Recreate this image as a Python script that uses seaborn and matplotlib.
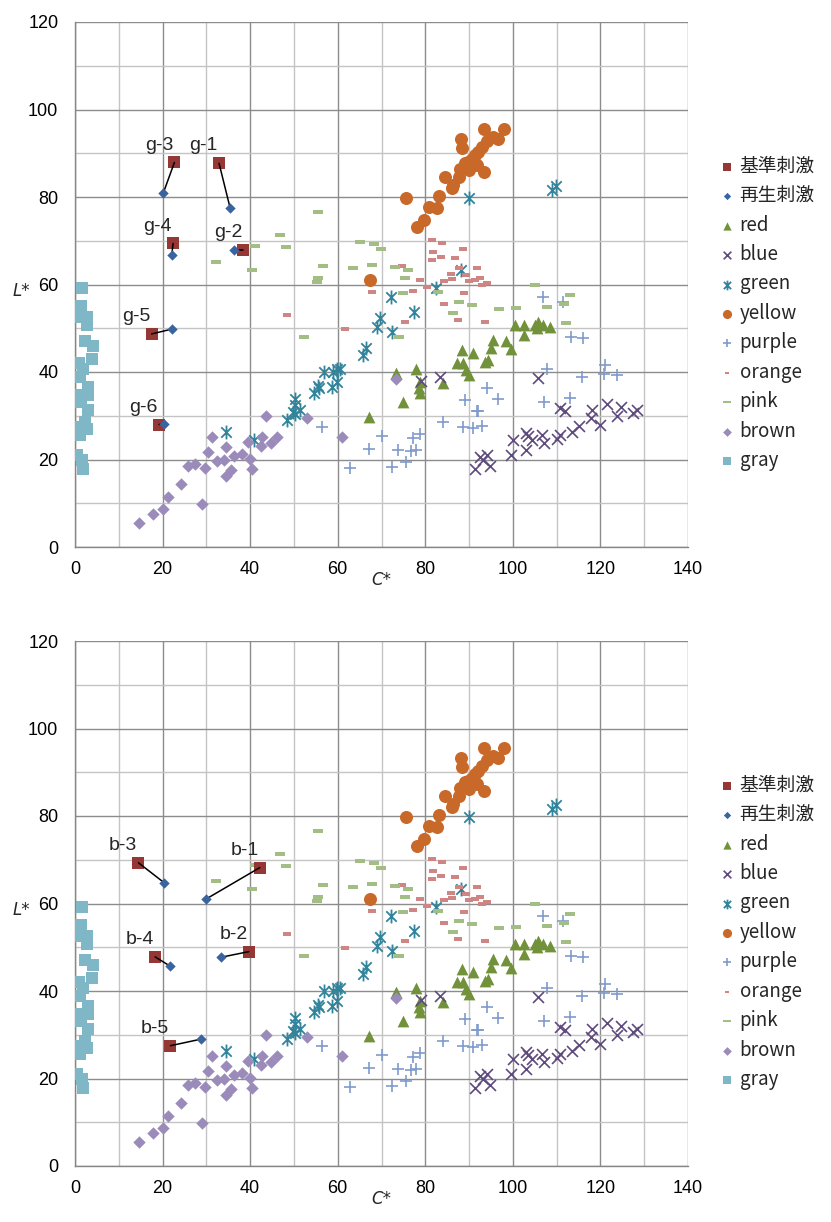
import matplotlib
matplotlib.use("Agg")
import matplotlib.pyplot as plt
import seaborn as sns
from matplotlib.path import Path
from matplotlib.ticker import MultipleLocator
from matplotlib import font_manager

sns.set_style("white")
plt.rcParams['font.family'] = ['Noto Sans CJK JP', 'DejaVu Sans']


def pick_font(names):
    for n in names:
        try:
            font_manager.findfont(n, fallback_to_default=False)
            return n
        except Exception:
            continue
    return 'DejaVu Sans'


NARROW = pick_font(['Liberation Sans Narrow', 'Liberation Sans', 'DejaVu Sans'])

# ---------------- colour stimulus data (C*, L*) ----------------
red_C = [67.1, 73.2, 75.0, 77.8, 78.8, 78.6, 78.8, 84.1, 87.3, 88.3, 88.7, 89.4, 90.0, 91.0,
         93.6, 94.4, 95.0, 95.4, 98.4, 99.5, 100.5, 102.5, 102.5, 105.0, 105.4, 105.8, 106.9, 108.5]
red_L = [29.8, 39.7, 33.2, 40.8, 37.8, 36.3, 35.1, 37.4, 42.0, 45.0, 42.1, 40.5, 39.3, 44.3,
         42.3, 42.7, 45.6, 47.3, 47.2, 45.3, 50.7, 50.7, 48.5, 50.7, 50.0, 51.5, 50.7, 50.4]

blue_C = [79.0, 83.4, 91.3, 92.5, 93.2, 94.0, 94.8, 99.5, 100.1, 103.0, 103.1, 103.5, 104.3, 105.7,
          106.6, 107.0, 110.0, 110.8, 110.8, 111.9, 113.6, 115.2, 117.8, 118.0, 120.0, 121.6,
          123.8, 124.6, 127.5, 128.3]
blue_L = [38.0, 38.9, 17.8, 20.6, 20.0, 21.0, 18.6, 21.0, 24.5, 22.2, 26.0, 25.4, 24.5, 38.6,
          25.6, 23.8, 24.6, 25.6, 31.7, 31.2, 26.4, 27.7, 29.6, 31.3, 27.9, 32.8,
          29.9, 31.9, 30.6, 31.3]

green_C = [34.6, 40.9, 48.5, 50.2, 50.2, 49.9, 51.4, 50.2, 54.6, 55.7, 55.6, 56.9, 58.6, 59.0,
           59.8, 60.5, 59.8, 65.8, 66.5, 69.0, 69.6, 72.5, 72.1, 77.4, 82.4, 88.1, 90.0, 109.0, 109.8]
green_L = [26.4, 24.5, 29.0, 33.8, 32.5, 30.9, 31.3, 30.4, 35.3, 36.3, 36.7, 40.1, 36.6, 40.1,
           40.8, 40.8, 37.8, 43.9, 45.4, 50.4, 52.3, 49.1, 57.1, 53.8, 59.1, 63.3, 79.7, 81.6, 82.5]

yellow_C = [67.4, 75.7, 78.2, 79.8, 80.9, 82.6, 83.2, 84.5, 86.0, 86.4, 87.7, 87.9, 88.1, 88.3,
            89.1, 89.8, 90.0, 90.6, 91.3, 91.7, 92.1, 92.9, 93.4, 93.5, 94.2, 95.5, 96.7, 98.0]
yellow_L = [61.0, 79.8, 73.2, 74.7, 77.8, 77.6, 80.2, 84.6, 82.0, 82.7, 84.6, 86.3, 93.2, 91.1,
            87.8, 88.1, 86.2, 88.8, 89.6, 87.3, 90.4, 91.5, 85.8, 95.5, 92.9, 93.8, 93.2, 95.5]

purple_C = [56.3, 62.8, 67.2, 70.0, 72.3, 73.8, 75.7, 76.7, 77.3, 77.9, 78.9, 84.0, 88.5, 89.1,
            91.0, 91.7, 92.1, 93.0, 94.2, 96.7, 106.8, 107.2, 107.9, 111.4, 113.0, 113.2, 115.7,
            116.1, 120.8, 121.0, 123.8]
purple_L = [27.5, 18.0, 22.3, 25.4, 18.4, 22.2, 19.5, 21.9, 25.0, 22.2, 25.8, 28.6, 27.4, 33.6,
            27.1, 31.1, 31.1, 27.7, 36.3, 33.8, 57.1, 33.2, 40.8, 55.9, 34.0, 47.9, 38.8,
            47.7, 39.5, 41.6, 39.3]

orange_C = [48.4, 61.7, 67.8, 74.6, 75.4, 77.3, 78.8, 80.3, 81.5, 81.5, 81.8, 83.7, 83.9, 84.3,
            84.3, 85.8, 86.2, 86.8, 87.5, 87.8, 88.5, 88.8, 89.2, 90.0, 91.3, 91.9, 92.5, 92.9,
            93.6, 94.2]
orange_L = [53.0, 49.9, 58.2, 64.2, 51.5, 58.6, 61.0, 59.5, 70.2, 65.5, 67.4, 66.2, 69.6, 60.8,
            55.5, 62.5, 61.3, 66.1, 52.0, 63.8, 68.1, 58.1, 62.2, 60.8, 61.0, 63.8, 61.6, 60.0,
            51.5, 60.3]

pink_C = [32.2, 40.5, 41.1, 46.8, 48.2, 52.3, 55.6, 55.3, 55.6, 56.7, 63.6, 65.1, 67.9, 68.3,
          69.8, 73.1, 74.0, 75.0, 75.4, 76.1, 83.0, 86.4, 87.8, 90.6, 96.9, 100.7, 105.0, 107.9,
          111.7, 112.1, 113.0]
pink_L = [65.2, 63.3, 68.8, 71.3, 68.6, 47.9, 76.6, 60.6, 61.6, 64.2, 63.8, 69.8, 64.5, 69.2,
          68.2, 63.9, 48.1, 58.0, 61.4, 63.3, 58.2, 53.6, 56.0, 55.3, 54.4, 54.7, 59.9, 54.8,
          55.5, 51.1, 57.6]

brown_C = [14.6, 17.7, 20.2, 21.3, 24.2, 25.8, 27.3, 28.9, 29.8, 30.4, 31.4, 32.4, 34.0, 34.6,
           34.6, 35.6, 36.3, 38.2, 40.0, 40.4, 39.6, 42.4, 42.6, 43.6, 44.7, 46.1, 52.9, 60.9, 73.3]
brown_L = [5.4, 7.5, 8.8, 11.5, 14.4, 18.5, 19.0, 9.9, 18.1, 21.8, 25.2, 19.7, 19.9, 22.9,
           16.3, 17.6, 20.9, 21.3, 20.2, 17.8, 24.0, 23.1, 25.2, 29.9, 23.7, 25.2, 29.6, 25.2, 38.3]

gray_C = [1.7, 1.3, 0.8, 2.8, 2.7, 2.3, 4.0, 3.8, 0.8, 1.9, 1.1, 3.0, 0.8, 3.0, 1.3, 3.0, 2.3,
          1.1, 2.7, 1.1, 0.4, 1.5, 1.8]
gray_L = [59.1, 55.1, 52.6, 52.6, 50.7, 47.1, 46.0, 42.9, 42.0, 40.8, 38.9, 36.6, 34.7, 34.7,
          33.2, 31.3, 28.6, 27.5, 26.9, 25.6, 21.0, 19.9, 17.8]

# ---------------- reference / reproduced stimuli ----------------
g_names = ['g-1', 'g-2', 'g-3', 'g-4', 'g-5', 'g-6']
g_ref_C = [32.9, 38.4, 22.7, 22.4, 17.5, 19.2]
g_ref_L = [87.7, 67.9, 87.9, 69.4, 48.7, 28.0]
g_rep_C = [35.4, 36.3, 20.2, 22.1, 22.1, 20.4]
g_rep_L = [77.6, 67.9, 81.0, 66.7, 49.8, 28.1]

b_names = ['b-1', 'b-2', 'b-3', 'b-4', 'b-5']
b_ref_C = [42.2, 39.7, 14.5, 18.3, 21.8]
b_ref_L = [68.2, 49.0, 69.3, 47.8, 27.5]
b_rep_C = [29.9, 33.3, 20.3, 21.7, 28.8]
b_rep_L = [61.0, 47.7, 64.8, 45.7, 29.0]

# ---------------- marker shapes ----------------
STAR = Path([(0, -1), (0, 1), (-0.75, -0.75), (0.75, 0.75), (-0.75, 0.75), (0.75, -0.75)],
            [Path.MOVETO, Path.LINETO, Path.MOVETO, Path.LINETO, Path.MOVETO, Path.LINETO])
SHORT_DASH = [(-1, -0.5), (1, -0.5), (1, 0.5), (-1, 0.5)]
LONG_DASH = [(-1, -0.36), (1, -0.36), (1, 0.36), (-1, 0.36)]

series = [
    # label, C, L, marker, colour, size, linewidth, edge
    ('red', red_C, red_L, '^', '#71913a', 72, 0, None),
    ('blue', blue_C, blue_L, 'x', '#5f4a7d', 62, 1.2, None),
    ('green', green_C, green_L, STAR, '#31849b', 100, 1.3, '#31849b'),
    ('yellow', yellow_C, yellow_L, 'o', '#c8692a', 88, 0, None),
    ('purple', purple_C, purple_L, '+', '#7f9bcd', 70, 1.2, None),
    ('orange', orange_C, orange_L, SHORT_DASH, '#cf8583', 26, 0, None),
    ('pink', pink_C, pink_L, LONG_DASH, '#a2be84', 60, 0, None),
    ('brown', brown_C, brown_L, 'D', '#9b8bbb', 40, 0, None),
    ('gray', gray_C, gray_L, 's', '#7fb7c7', 84, 0, None),
]

REF_COLOR = '#953735'
REP_COLOR = '#3a64a0'


def draw_panel(ax, names, ref_C, ref_L, rep_C, rep_L):
    handles = {}
    for z, (lab, cx, ly, mk, col, size, lw, edge) in enumerate(series):
        kw = dict(x=cx, y=ly, ax=ax, marker=mk, color=col, s=size, linewidth=lw,
                  label=lab, zorder=3 + z * 0.01, legend=False)
        if edge is not None:
            kw['edgecolor'] = edge
        sns.scatterplot(**kw)
        handles[lab] = ax.collections[-1]

    # leader lines joining each reference stimulus to its reproduction
    for rc, rl, pc, pl in zip(ref_C, ref_L, rep_C, rep_L):
        ax.plot([rc, pc], [rl, pl], color='black', lw=1.1, zorder=6)

    sns.scatterplot(x=ref_C, y=ref_L, ax=ax, marker='s', color=REF_COLOR, s=80, linewidth=0,
                    zorder=5, legend=False)
    handles['ref'] = ax.collections[-1]
    sns.scatterplot(x=rep_C, y=rep_L, ax=ax, marker='D', color=REP_COLOR, s=28, linewidth=0,
                    zorder=7, legend=False)
    handles['rep'] = ax.collections[-1]

    for nm, rc, rl in zip(names, ref_C, ref_L):
        ax.annotate(nm, xy=(rc, rl), xytext=(-11, 12.5), textcoords='offset points',
                    ha='center', va='center', fontsize=14, family=[NARROW, 'DejaVu Sans'],
                    zorder=8)

    ax.set_xlim(0, 140)
    ax.set_ylim(0, 120)
    ax.xaxis.set_major_locator(MultipleLocator(20))
    ax.yaxis.set_major_locator(MultipleLocator(20))
    ax.xaxis.set_minor_locator(MultipleLocator(10))
    ax.yaxis.set_minor_locator(MultipleLocator(10))
    ax.grid(which='major', color='#8c8c8c', lw=1.0)
    ax.grid(which='minor', color='#c4c4c4', lw=1.0)
    ax.set_axisbelow(True)
    for side in ('top', 'right'):
        ax.spines[side].set_visible(False)
    for side in ('left', 'bottom'):
        ax.spines[side].set_color('#868686')
        ax.spines[side].set_linewidth(1.0)
    ax.tick_params(which='major', direction='out', length=4, width=1.0, color='#868686',
                   labelsize=13, labelcolor='black', labelfontfamily=NARROW)
    ax.tick_params(axis='y', which='major', pad=8)
    ax.tick_params(axis='x', which='major', pad=6)
    ax.tick_params(which='minor', length=0)
    ax.set_xlabel('')
    ax.set_ylabel('')
    ax.text(0.5, -0.063, 'C*', transform=ax.transAxes, ha='center', va='center',
            fontsize=12, style='italic', family='DejaVu Sans')
    ax.text(-0.088, 0.488, 'L*', transform=ax.transAxes, ha='center', va='center',
            fontsize=12, style='italic', family='DejaVu Sans')

    order = ['ref', 'rep', 'red', 'blue', 'green', 'yellow', 'purple', 'orange', 'pink',
             'brown', 'gray']
    labels = ['基準刺激', '再生刺激', 'red', 'blue', 'green', 'yellow', 'purple', 'orange',
              'pink', 'brown', 'gray']
    ax.legend([handles[k] for k in order], labels, loc='center left',
              bbox_to_anchor=(1.055, 0.445), frameon=False, fontsize=13.5,
              markerscale=0.7, handlelength=0.6, handletextpad=0.35, labelspacing=0.45,
              borderpad=0, borderaxespad=0)


fig = plt.figure(figsize=(8.31, 12.22), dpi=100)
ax_top = fig.add_axes([75 / 831, 1 - 547 / 1222, 613 / 831, 525 / 1222])
ax_bot = fig.add_axes([75 / 831, 1 - 1166 / 1222, 613 / 831, 525 / 1222])

draw_panel(ax_top, g_names, g_ref_C, g_ref_L, g_rep_C, g_rep_L)
draw_panel(ax_bot, b_names, b_ref_C, b_ref_L, b_rep_C, b_rep_L)

fig.savefig('out.png', dpi=100, facecolor='white')
